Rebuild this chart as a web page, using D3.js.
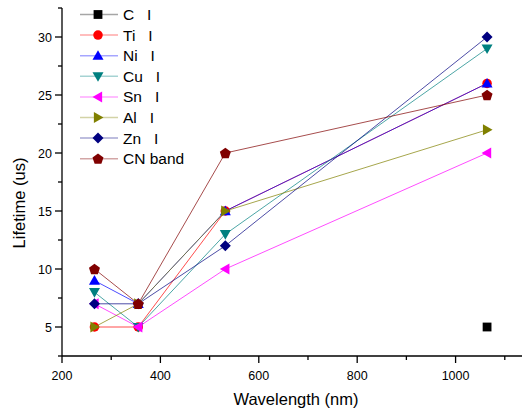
<!DOCTYPE html>
<html>
<head>
<meta charset="utf-8">
<script src="https://cdn.jsdelivr.net/npm/d3@7"></script>
<style>
  body { margin: 0; background: #fff; }
  svg { font-family: "Liberation Sans", Arial, sans-serif; }
</style>
</head>
<body>
<svg width="522" height="411"></svg>
<script>
// data
const wavelengths = [266, 355, 532, 1064]
const seriesNames = ["C   I", "Ti   I", "Ni   I", "Cu   I", "Sn   I", "Al   I", "Zn   I", "CN band"]
const seriesColors = ["#000000", "#ff0000", "#0000ff", "#008080", "#ff00ff", "#808000", "#000080", "#800000"]
const seriesSymbols = ["square", "circle", "up", "down", "left", "right", "diamond", "pentagon"]
const valuesC = [null, null, null, 5]
const valuesTi = [5, 5, 15, 26]
const valuesNi = [9, 7, 15, 26]
const valuesCu = [8, 5, 13, 29]
const valuesSn = [7, 5, 10, 20]
const valuesAl = [5, 7, 15, 22]
const valuesZn = [7, 7, 12, 30]
const valuesCN = [10, 7, 20, 25]
const xTicks = [200, 400, 600, 800, 1000]
const yTicks = [5, 10, 15, 20, 25, 30]

const allValues = [valuesC, valuesTi, valuesNi, valuesCu, valuesSn, valuesAl, valuesZn, valuesCN]
const series = seriesNames.map((name, i) => ({
    name: name,
    color: seriesColors[i],
    symbol: seriesSymbols[i],
    points: wavelengths.map((w, j) => ({x: w, y: allValues[i][j]})).filter(p => p.y !== null)
}))

const svg = d3.select("svg")
const x = d3.scaleLinear().domain([200, 1135]).range([62, 522])
const y = d3.scaleLinear().domain([2.5, 32.5]).range([356, 8])

// symbol paths
function symbolPath(type, s) {
    const r = s / 2
    if (type === "square") return `M${-r*0.8},${-r*0.8}h${1.6*r}v${1.6*r}h${-1.6*r}Z`
    if (type === "circle") return d3.symbol(d3.symbolCircle, Math.PI * r * r * 0.75)()
    if (type === "up") return `M0,${-r}L${r},${r*0.75}L${-r},${r*0.75}Z`
    if (type === "down") return `M0,${r}L${r},${-r*0.75}L${-r},${-r*0.75}Z`
    if (type === "left") return `M${-r},0L${r*0.75},${-r}L${r*0.75},${r}Z`
    if (type === "right") return `M${r},0L${-r*0.75},${-r}L${-r*0.75},${r}Z`
    if (type === "diamond") return `M0,${-r}L${r},0L0,${r}L${-r},0Z`
    // pentagon
    let pts = d3.range(5).map(k => {
        let a = -Math.PI / 2 + k * 2 * Math.PI / 5
        return [r * 1.05 * Math.cos(a), r * 1.05 * Math.sin(a) + 0.5]
    })
    return "M" + pts.map(p => p.join(",")).join("L") + "Z"
}

// axes
const xAxis = svg.append("g").attr("transform", "translate(0,356)")
xAxis.append("line").attr("x1", 62).attr("x2", 522).attr("stroke", "#000").attr("stroke-width", 1.3)
xAxis.selectAll(".minor")
    .data(d3.range(200, 1101, 100))
    .join("line")
    .attr("x1", d => x(d)).attr("x2", d => x(d))
    .attr("y1", 0).attr("y2", d => d % 200 === 0 ? 7 : 4)
    .attr("stroke", "#000").attr("stroke-width", 1.3)
xAxis.selectAll("text")
    .data(xTicks)
    .join("text")
    .attr("x", d => x(d)).attr("y", 24)
    .attr("text-anchor", "middle")
    .attr("font-size", 12.5)
    .text(d => d)

const yAxis = svg.append("g").attr("transform", "translate(62,0)")
yAxis.append("line").attr("y1", 8).attr("y2", 356).attr("stroke", "#000").attr("stroke-width", 1.3)
yAxis.selectAll(".tick")
    .data(d3.range(2.5, 32.6, 2.5))
    .join("line")
    .attr("y1", d => y(d)).attr("y2", d => y(d))
    .attr("x1", d => d % 5 === 0 ? -7 : -4).attr("x2", 0)
    .attr("stroke", "#000").attr("stroke-width", 1.3)
yAxis.selectAll("text")
    .data(yTicks)
    .join("text")
    .attr("x", -10).attr("y", d => y(d) + 4.5)
    .attr("text-anchor", "end")
    .attr("font-size", 12.5)
    .text(d => d)

svg.append("text")
    .attr("x", 296).attr("y", 405)
    .attr("text-anchor", "middle")
    .attr("font-size", 16.5)
    .text("Wavelength (nm)")
svg.append("text")
    .attr("transform", "translate(25,203) rotate(-90)")
    .attr("text-anchor", "middle")
    .attr("font-size", 16.5)
    .text("Lifetime (us)")

// lines and markers
const line = d3.line().x(d => x(d.x)).y(d => y(d.y))
const groups = svg.selectAll(".series")
    .data(series)
    .join("g")
groups.append("path")
    .attr("d", d => line(d.points))
    .attr("fill", "none")
    .attr("stroke", d => d.color)
    .attr("stroke-opacity", 0.7)
    .attr("stroke-width", 1)
groups.each(function (s) {
    d3.select(this).selectAll("path.mark")
        .data(s.points)
        .join("path")
        .attr("class", "mark")
        .attr("transform", p => `translate(${x(p.x)},${y(p.y)})`)
        .attr("d", symbolPath(s.symbol, 11))
        .attr("fill", s.color)
})

// legend
const legend = svg.append("g")
const rowY = i => 14.5 + i * 20.6
legend.selectAll("line")
    .data(series)
    .join("line")
    .attr("x1", 80).attr("x2", 118)
    .attr("y1", (d, i) => rowY(i)).attr("y2", (d, i) => rowY(i))
    .attr("stroke", d => d.color)
    .attr("stroke-opacity", 0.35)
    .attr("stroke-width", 1.5)
legend.selectAll("path")
    .data(series)
    .join("path")
    .attr("transform", (d, i) => `translate(98,${rowY(i)})`)
    .attr("d", d => symbolPath(d.symbol, 11))
    .attr("fill", d => d.color)
legend.selectAll("text")
    .data(series)
    .join("text")
    .attr("x", 123).attr("y", (d, i) => rowY(i) + 5.5)
    .attr("font-size", 15.5)
    .attr("xml:space", "preserve")
    .style("white-space", "pre")
    .text(d => d.name)
</script>
</body>
</html>
